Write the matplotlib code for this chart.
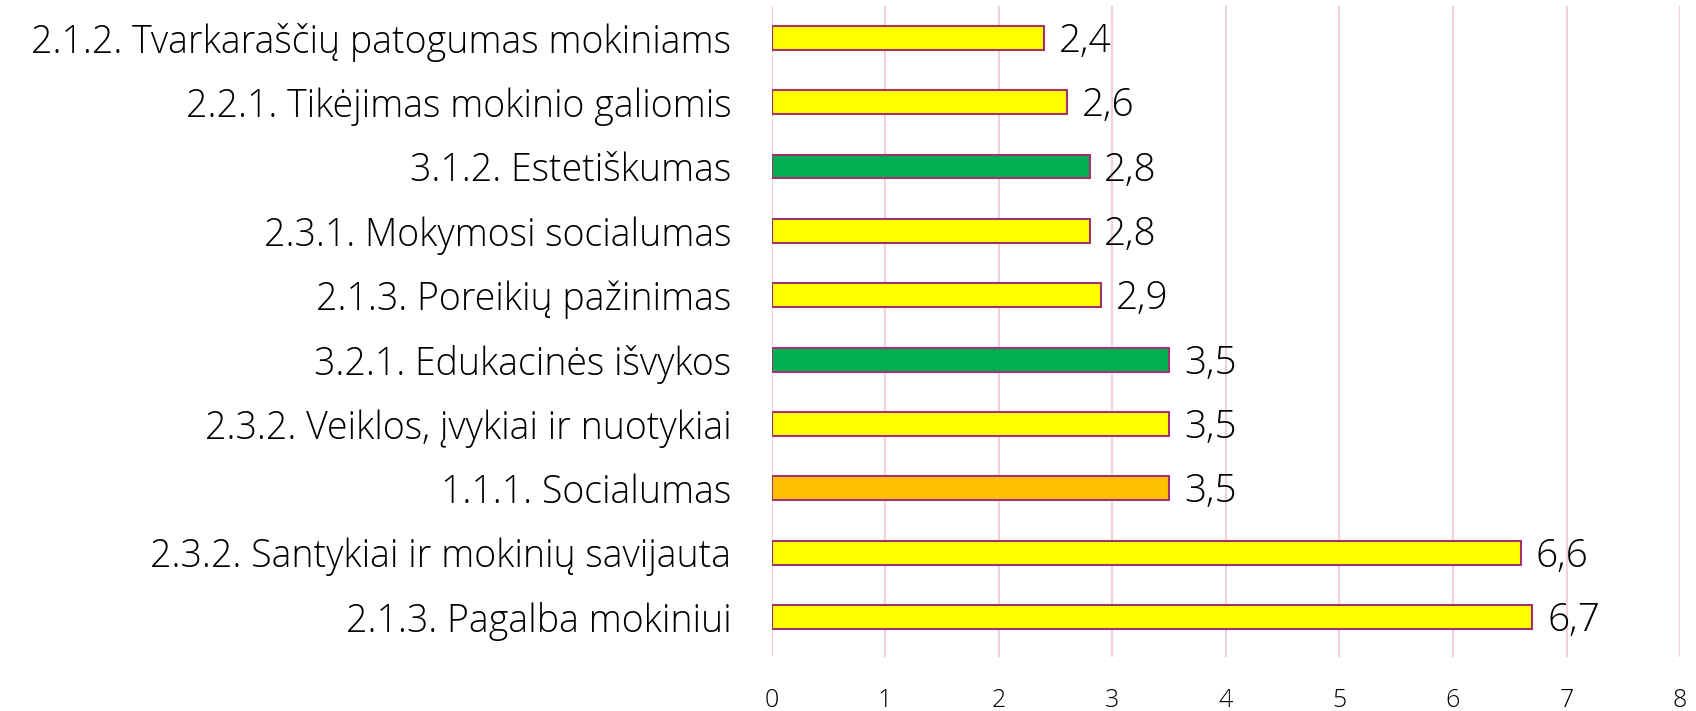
import matplotlib
matplotlib.use('Agg')
import matplotlib.pyplot as plt

plt.rcParams['font.family'] = ['Open Sans', 'DejaVu Sans']

#categories top to bottom, as in the picture
categories = ['2.1.2. Tvarkaraščių patogumas mokiniams',
              '2.2.1. Tikėjimas mokinio galiomis',
              '3.1.2. Estetiškumas',
              '2.3.1. Mokymosi socialumas',
              '2.1.3. Poreikių pažinimas',
              '3.2.1. Edukacinės išvykos',
              '2.3.2. Veiklos, įvykiai ir nuotykiai',
              '1.1.1. Socialumas',
              '2.3.2. Santykiai ir mokinių savijauta',
              '2.1.3. Pagalba mokiniui']
values = [2.4, 2.6, 2.8, 2.8, 2.9, 3.5, 3.5, 3.5, 6.6, 6.7]
groups = ['y', 'y', 'g', 'y', 'y', 'g', 'y', 'o', 'y', 'y']
groupColours = {'y': '#FFFF00', 'g': '#00B050', 'o': '#FFC000'}
xTicks = [0, 1, 2, 3, 4, 5, 6, 7, 8]

fig = plt.figure(figsize=(16.96, 7.11), dpi=100)
ax = fig.add_axes([0.455, 0.076, 0.5356, 0.916])

pos = list(range(len(categories)))
barColours = [groupColours[g] for g in groups]
ax.barh(pos, values, height=0.37, color=barColours, edgecolor='#A3336F', linewidth=1.5, zorder=3)

for p, v in zip(pos, values):
	ax.text(v + 0.13, p + 0.06, ('%.1f' % v).replace('.', ','), ha='left', va='center', fontsize=28, color='black', fontweight='light')

ax.set_yticks(pos)
ax.set_yticklabels(categories, fontsize=27, fontweight='light')
ax.set_ylim(len(categories) - 0.5 + 0.12, -0.5)
ax.set_xlim(0, 8)
ax.set_xticks(xTicks)
ax.set_xticklabels([str(t) for t in xTicks], fontsize=18, fontweight='light')
ax.tick_params(axis='both', length=0)
ax.tick_params(axis='y', pad=29)
ax.tick_params(axis='x', pad=22)

ax.grid(axis='x', color='#F0D2DE', linewidth=1.5, zorder=0)
for s in ax.spines.values():
	s.set_visible(False)

fig.savefig('out.png', dpi=100)
